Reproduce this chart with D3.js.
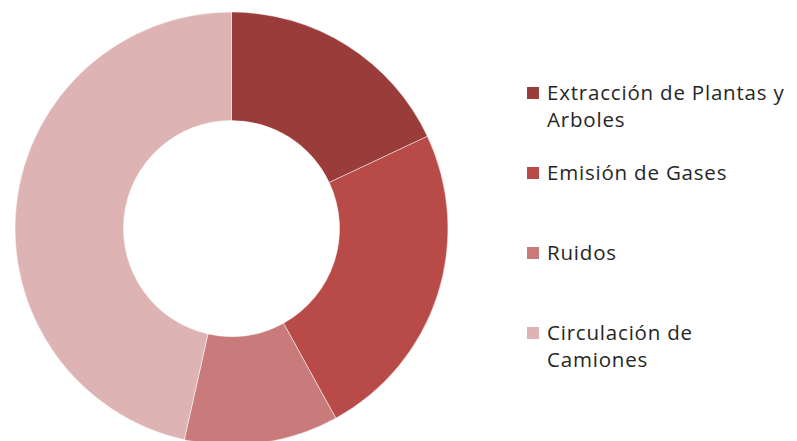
<!DOCTYPE html>
<html>
<head>
<meta charset="utf-8">
<script src="https://cdn.jsdelivr.net/npm/d3@7"></script>
<style>
  html, body { margin: 0; padding: 0; background: #fff; }
  svg { display: block; }
</style>
</head>
<body>
<svg id="chart" width="797" height="441"></svg>
<script>
// Impact categories and their shares (%)
const categories = [
  "Extracción de Plantas y Arboles",
  "Emisión de Gases",
  "Ruidos",
  "Circulación de Camiones"
];
const values = [18, 24, 11.5, 46.5];
// Legend text, broken into lines as it is displayed
const legendLines = [
  ["Extracción de Plantas y", "Arboles"],
  ["Emisión de Gases"],
  ["Ruidos"],
  ["Circulación de", "Camiones"]
];
const colors = ["#993c3a", "#b84a47", "#c97a7a", "#ddb3b4"];

const svg = d3.select("#chart");
const cx = 231.5, cy = 228.5;
const outerR = 216.5, innerR = 108;

const color = d3.scaleOrdinal().domain(categories).range(colors);

const data = categories.map((c, i) => ({ category: c, value: values[i] }));

const pie = d3.pie().sort(null).value(d => d.value).startAngle(0).endAngle(2 * Math.PI);
const arc = d3.arc().innerRadius(innerR).outerRadius(outerR);

svg.append("g")
  .attr("transform", `translate(${cx},${cy})`)
  .selectAll("path")
  .data(pie(data))
  .join("path")
  .attr("d", arc)
  .attr("fill", d => color(d.data.category))
  .attr("stroke", "rgba(255,255,255,0.6)")
  .attr("stroke-width", 0.8);

// Legend
const legendY = d3.scaleLinear().domain([0, 3]).range([100, 340]);
const legend = svg.append("g")
  .attr("font-family", "'Open Sans', 'Noto Sans', sans-serif")
  .attr("font-size", 20.5)
  .attr("letter-spacing", 0.8)
  .attr("fill", "#262626");

const items = legend.selectAll("g")
  .data(data)
  .join("g")
  .attr("transform", (d, i) => `translate(0,${legendY(i)})`);

items.append("rect")
  .attr("x", 527)
  .attr("y", -13)
  .attr("width", 12)
  .attr("height", 12)
  .attr("fill", d => color(d.category));

items.append("text")
  .attr("x", 547)
  .selectAll("tspan")
  .data((d, i) => legendLines[i])
  .join("tspan")
  .attr("x", 547)
  .attr("dy", (t, j) => j === 0 ? 0 : 27)
  .text(t => t);
</script>
</body>
</html>
